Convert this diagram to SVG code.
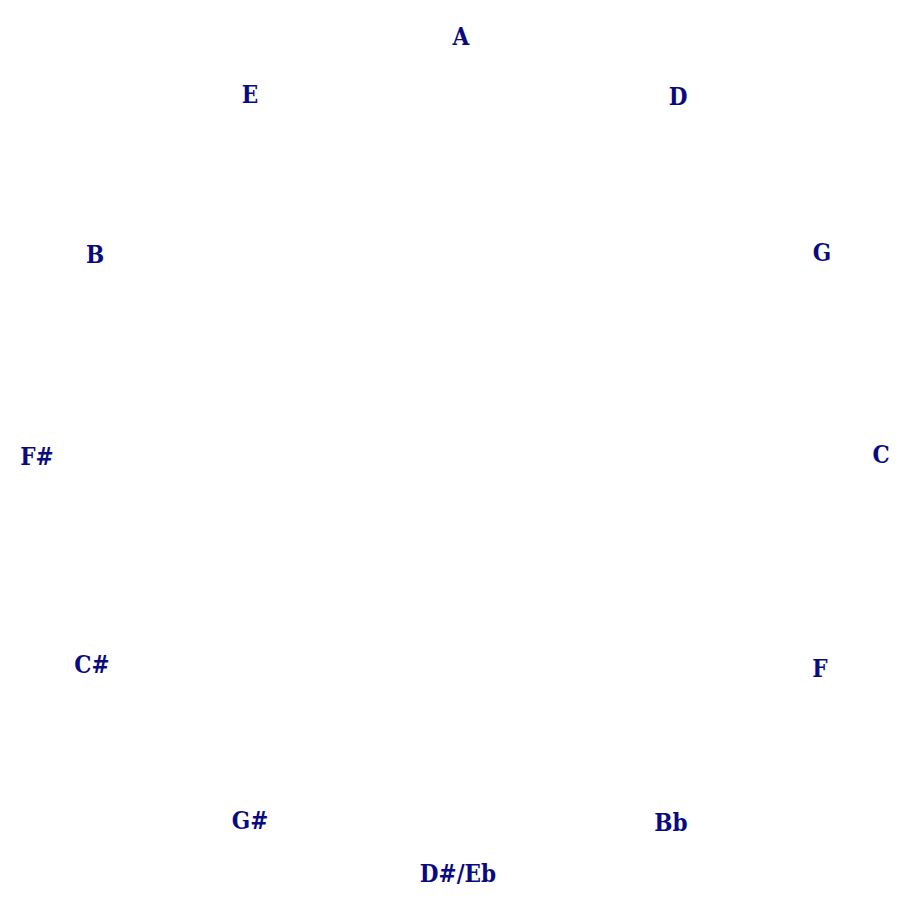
<svg xmlns="http://www.w3.org/2000/svg" width="912" height="912" viewBox="0 0 912 912">
<style>
.n text{font-family:"DejaVu Serif",serif;font-weight:bold;font-stretch:condensed;fill:#0a0a80;text-anchor:middle;dominant-baseline:central;font-size:24px}
</style>
<rect width="912" height="912" fill="#fff"/>
<g id="connectors"/>
<g class="n">
<g id="A"><text x="461" y="36">A</text></g>
<g id="D"><text x="678" y="96">D</text></g>
<g id="G"><text x="822" y="252">G</text></g>
<g id="C"><text x="881" y="454">C</text></g>
<g id="F"><text x="820" y="668">F</text></g>
<g id="Bb"><text x="671" y="822">Bb</text></g>
<g id="DsEb"><text x="458" y="873">D#/Eb</text></g>
<g id="Gs"><text x="250" y="820">G#</text></g>
<g id="Cs"><text x="92" y="664">C#</text></g>
<g id="Fs"><text x="37" y="456">F#</text></g>
<g id="B"><text x="95" y="254">B</text></g>
<g id="E"><text x="250" y="94">E</text></g>
</g>
</svg>
